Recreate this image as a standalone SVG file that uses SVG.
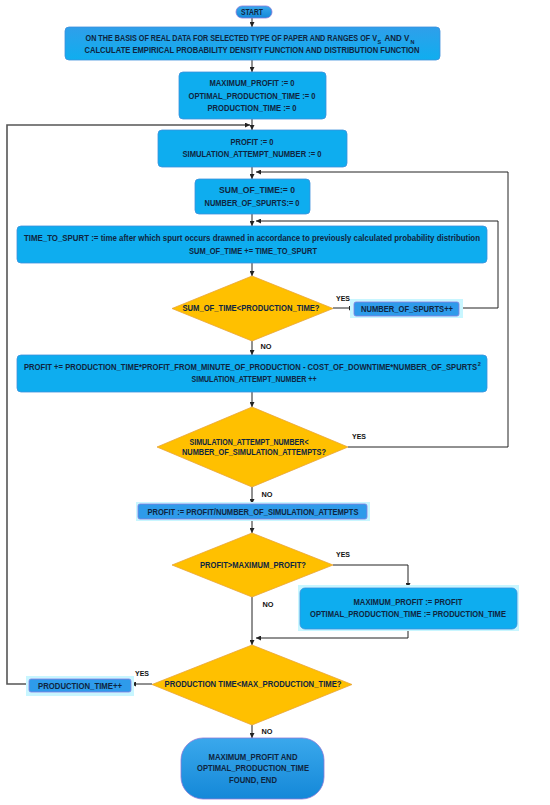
<svg xmlns="http://www.w3.org/2000/svg" width="550" height="805" viewBox="0 0 550 805">
<defs>
<linearGradient id="gTerm" x1="0" y1="0" x2="0" y2="1">
<stop offset="0" stop-color="#3AA8EC"/>
<stop offset="1" stop-color="#1488D8"/>
</linearGradient>
<linearGradient id="gBox1" x1="0" y1="0" x2="0" y2="1">
<stop offset="0" stop-color="#2F9FEA"/>
<stop offset="1" stop-color="#0FAEEF"/>
</linearGradient>
<marker id="arr" viewBox="0 0 6 6" refX="6" refY="3" markerWidth="5" markerHeight="5" markerUnits="userSpaceOnUse" orient="auto">
<path d="M0,0 L6,3 L0,6 z" fill="#222"/>
</marker>
</defs>
<style>
text{font-family:"Liberation Sans",Arial,sans-serif;font-weight:bold;font-size:8.5px;fill:#0E2540;text-anchor:middle;dominant-baseline:central}
.st{text-anchor:start}
.en{text-anchor:end}
.sub{font-size:5.5px;text-anchor:start}
.box{fill:#0EADEF;stroke:#3D8FDC;stroke-width:0.8}
.small{fill:#2E9BEA;stroke:#8C7FE0;stroke-width:0.8}
.halo{fill:#C8F6FF}
.dia{fill:#FFC000;stroke:#E8A53A;stroke-width:0.8}
.term{fill:url(#gTerm);stroke:#8A78D8;stroke-width:0.8}
.c{fill:none;stroke:#222;stroke-width:1}
.loop{fill:none;stroke:#555;stroke-width:1.6}
.lbl{font-size:8px;fill:#111}
</style>
<rect width="550" height="805" fill="#FFFFFF"/>

<g id="connectors">
<line class="c" x1="252" y1="18" x2="252" y2="27" marker-end="url(#arr)"/>
<line class="c" x1="252" y1="60" x2="252" y2="72" marker-end="url(#arr)"/>
<line class="c" x1="252" y1="119" x2="252" y2="130" marker-end="url(#arr)"/>
<line class="c" x1="252" y1="167" x2="252" y2="179" marker-end="url(#arr)"/>
<line class="c" x1="252" y1="214" x2="252" y2="226" marker-end="url(#arr)"/>
<line class="c" x1="252" y1="263" x2="252" y2="276" marker-end="url(#arr)"/>
<line class="c" x1="333" y1="308" x2="354" y2="308" marker-end="url(#arr)"/>
<polyline class="c" points="459,308 498,308 498,221 256,221" marker-end="url(#arr)"/>
<line class="c" x1="252" y1="341" x2="252" y2="355" marker-end="url(#arr)"/>
<line class="c" x1="252" y1="392" x2="252" y2="407" marker-end="url(#arr)"/>
<polyline class="c" points="348,447 508,447 508,172 256,172" marker-end="url(#arr)"/>
<line class="c" x1="252" y1="487" x2="252" y2="504" marker-end="url(#arr)"/>
<line class="c" x1="252" y1="519" x2="252" y2="533" marker-end="url(#arr)"/>
<polyline class="c" points="333,565 408,565 408,588" marker-end="url(#arr)"/>
<polyline class="c" points="408,629 408,638 256,638" marker-end="url(#arr)"/>
<line class="c" x1="252" y1="597" x2="252" y2="645" marker-end="url(#arr)"/>
<line class="c" x1="152" y1="684" x2="131" y2="684" marker-end="url(#arr)"/>
<polyline class="loop" points="29,684 7,684 7,125 250,125" marker-end="url(#arr)"/>
<line class="c" x1="252" y1="725" x2="252" y2="738" marker-end="url(#arr)"/>
<text class="lbl" x="343" y="298" textLength="14" lengthAdjust="spacingAndGlyphs">YES</text>
<text class="lbl" x="266" y="346" textLength="11" lengthAdjust="spacingAndGlyphs">NO</text>
<text class="lbl" x="359" y="436" textLength="14" lengthAdjust="spacingAndGlyphs">YES</text>
<text class="lbl" x="267" y="494" textLength="11" lengthAdjust="spacingAndGlyphs">NO</text>
<text class="lbl" x="343" y="554" textLength="14" lengthAdjust="spacingAndGlyphs">YES</text>
<text class="lbl" x="268" y="604" textLength="11" lengthAdjust="spacingAndGlyphs">NO</text>
<text class="lbl" x="142" y="673" textLength="14" lengthAdjust="spacingAndGlyphs">YES</text>
<text class="lbl" x="267" y="731" textLength="11" lengthAdjust="spacingAndGlyphs">NO</text>
</g>

<g id="start">
<rect class="term" x="236" y="6" width="36" height="12" rx="6"/>
<text x="252" y="12" textLength="22" lengthAdjust="spacingAndGlyphs">START</text>
</g>

<g id="box1">
<rect x="65" y="27" width="375" height="33" rx="4" fill="url(#gBox1)" stroke="#3D8FDC" stroke-width="0.8"/>
<text class="en" transform="translate(377 38) scale(0.85 1)" x="0" y="0">ON THE BASIS OF REAL DATA FOR SELECTED TYPE OF PAPER AND RANGES OF V</text>
<text class="sub" x="377.6" y="41.5">S</text>
<text class="st" transform="translate(384.5 38) scale(0.94 1)" x="0" y="0">AND V</text>
<text class="sub" x="410.5" y="41.5">N</text>
<text x="252" y="50" textLength="335" lengthAdjust="spacingAndGlyphs">CALCULATE EMPIRICAL PROBABILITY DENSITY FUNCTION AND DISTRIBUTION FUNCTION</text>
</g>

<g id="box2">
<rect class="box" x="179" y="72" width="147" height="47" rx="4"/>
<text x="252" y="83" textLength="85" lengthAdjust="spacingAndGlyphs">MAXIMUM_PROFIT := 0</text>
<text x="252" y="96" textLength="127" lengthAdjust="spacingAndGlyphs">OPTIMAL_PRODUCTION_TIME := 0</text>
<text x="252" y="108" textLength="89" lengthAdjust="spacingAndGlyphs">PRODUCTION_TIME := 0</text>
</g>

<g id="box3">
<rect class="box" x="158" y="130" width="189" height="37" rx="4"/>
<text x="252" y="142" textLength="43" lengthAdjust="spacingAndGlyphs">PROFIT := 0</text>
<text x="252" y="154" textLength="139" lengthAdjust="spacingAndGlyphs">SIMULATION_ATTEMPT_NUMBER := 0</text>
</g>

<g id="box4">
<rect class="box" x="195" y="179" width="115" height="35" rx="4"/>
<text x="257" y="190" textLength="76" lengthAdjust="spacingAndGlyphs">SUM_OF_TIME:= 0</text>
<text x="252" y="203" textLength="95" lengthAdjust="spacingAndGlyphs">NUMBER_OF_SPURTS:= 0</text>
</g>

<g id="box5">
<rect class="box" x="17" y="226" width="470" height="37" rx="4"/>
<text x="252" y="238" textLength="456" lengthAdjust="spacingAndGlyphs">TIME_TO_SPURT := time after which spurt occurs drawned in accordance to previously calculated probability distribution</text>
<text x="253" y="251" textLength="128" lengthAdjust="spacingAndGlyphs">SUM_OF_TIME += TIME_TO_SPURT</text>
</g>

<g id="d1">
<polygon class="dia" points="252,276 333,308.5 252,341 172,308.5"/>
<text x="251" y="308" textLength="137" lengthAdjust="spacingAndGlyphs">SUM_OF_TIME&lt;PRODUCTION_TIME?</text>
</g>

<g id="spurts">
<rect class="halo" x="350" y="299" width="113" height="19"/>
<rect class="small" x="354" y="302" width="105" height="14" rx="2"/>
<text x="407" y="309" textLength="92" lengthAdjust="spacingAndGlyphs">NUMBER_OF_SPURTS++</text>
</g>

<g id="box6">
<rect class="box" x="17" y="355" width="470" height="37" rx="4"/>
<text class="en" transform="translate(477 367) scale(0.90 1)" x="0" y="0">PROFIT += PRODUCTION_TIME*PROFIT_FROM_MINUTE_OF_PRODUCTION - COST_OF_DOWNTIME*NUMBER_OF_SPURTS</text>
<text class="sub" x="477.8" y="363.5">2</text>
<text x="254" y="379" textLength="125" lengthAdjust="spacingAndGlyphs">SIMULATION_ATTEMPT_NUMBER ++</text>
</g>

<g id="d2">
<polygon class="dia" points="252,407 348,447 252,487 157,447"/>
<text x="249" y="442" textLength="119" lengthAdjust="spacingAndGlyphs">SIMULATION_ATTEMPT_NUMBER&lt;</text>
<text x="254" y="452" textLength="144" lengthAdjust="spacingAndGlyphs">NUMBER_OF_SIMULATION_ATTEMPTS?</text>
</g>

<g id="box7">
<rect class="halo" x="136" y="502" width="234" height="19"/>
<rect class="small" x="138" y="504" width="229" height="15" rx="2"/>
<text x="253" y="511.5" textLength="211" lengthAdjust="spacingAndGlyphs">PROFIT := PROFIT/NUMBER_OF_SIMULATION_ATTEMPTS</text>
</g>

<g id="d3">
<polygon class="dia" points="252,533 333,565 252,597 172,565"/>
<text x="253" y="565" textLength="106" lengthAdjust="spacingAndGlyphs">PROFIT&gt;MAXIMUM_PROFIT?</text>
</g>

<g id="box8">
<rect class="halo" x="298" y="585" width="221" height="46"/>
<rect class="box" x="300" y="588" width="217" height="41" rx="5"/>
<text x="408" y="602" textLength="109" lengthAdjust="spacingAndGlyphs">MAXIMUM_PROFIT := PROFIT</text>
<text x="408" y="614" textLength="196" lengthAdjust="spacingAndGlyphs">OPTIMAL_PRODUCTION_TIME := PRODUCTION_TIME</text>
</g>

<g id="d4">
<polygon class="dia" points="252,645 352,684.5 252,725 152,684.5"/>
<text x="253" y="684" textLength="177" lengthAdjust="spacingAndGlyphs">PRODUCTION TIME&lt;MAX_PRODUCTION_TIME?</text>
</g>

<g id="ptinc">
<rect class="halo" x="26" y="676" width="108" height="20"/>
<rect class="small" x="29" y="679" width="102" height="13" rx="2"/>
<text x="80" y="685.5" textLength="84" lengthAdjust="spacingAndGlyphs">PRODUCTION_TIME++</text>
</g>

<g id="end">
<rect class="term" x="181" y="738" width="143" height="61" rx="22"/>
<text x="253" y="757" textLength="89" lengthAdjust="spacingAndGlyphs">MAXIMUM_PROFIT AND</text>
<text x="253" y="768" textLength="112" lengthAdjust="spacingAndGlyphs">OPTIMAL_PRODUCTION_TIME</text>
<text x="253" y="780" textLength="48" lengthAdjust="spacingAndGlyphs">FOUND, END</text>
</g>
</svg>
